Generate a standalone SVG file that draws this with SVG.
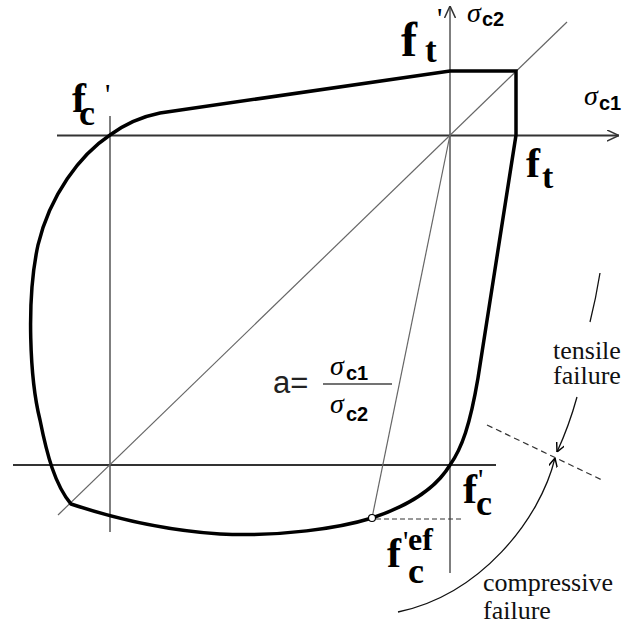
<svg xmlns="http://www.w3.org/2000/svg" width="626" height="632" viewBox="0 0 626 632">
<defs>
<style>
.ax{stroke:#333;stroke-width:2;fill:none}
.vl{stroke:#555;stroke-width:1.5;fill:none}
.thin{stroke:#666;stroke-width:1.2;fill:none}
.env{stroke:#000;stroke-width:3.5;fill:none;stroke-linejoin:miter}
.arc{stroke:#111;stroke-width:1.3;fill:none}
.dash{stroke:#333;stroke-width:1.2;fill:none;stroke-dasharray:6 4}
.fb{font-family:"Liberation Serif",serif;font-weight:bold;font-size:42px;fill:#000}
.sub{font-size:36px}
.sup{font-size:32px}
.pr{font-weight:normal;font-size:30px}
.sig{font-family:"Liberation Serif",serif;font-style:italic;font-size:28px;fill:#000}
.ss{font-family:"Liberation Sans",sans-serif;font-style:normal;font-weight:bold;font-size:20px}
.lbl{font-family:"Liberation Serif",serif;font-size:26px;fill:#111}
.fa{font-family:"Liberation Sans",sans-serif;font-size:31px;fill:#222}
</style>
<marker id="arr" viewBox="0 0 12 12" refX="12" refY="6" markerWidth="12" markerHeight="12" markerUnits="userSpaceOnUse" orient="auto"><path d="M0,0.5 L12,6 L0,11.5" fill="none" stroke="#333" stroke-width="1.5"/></marker>
<marker id="tick" viewBox="0 0 10 10" refX="10" refY="5" markerWidth="9" markerHeight="9" markerUnits="userSpaceOnUse" orient="auto-start-reverse"><path d="M0,0 L10,5 L0,10" fill="none" stroke="#000" stroke-width="1.6"/></marker>
</defs>
<rect width="626" height="632" fill="#fff"/>

<g id="connectors">
<path class="ax" d="M57,135.5 H619" marker-end="url(#arr)"/>
<path class="vl" d="M450,573 V6" marker-end="url(#arr)"/>
<path class="ax" d="M13,465 H496"/>
<path class="vl" d="M110,116 V532"/>
<path class="thin" d="M58,515 L567,22"/>
<path class="thin" d="M450,135 L372,518"/>
<path class="dash" d="M376,519 H463" style="stroke-dasharray:5 3;stroke-width:1"/>
<path class="dash" d="M487,425 L602,480"/>
<path class="arc" d="M600,273 Q596,298 590,322"/>
<path class="arc" d="M577,397 Q569,426 557,452" marker-end="url(#tick)"/>
<path class="arc" d="M555,458 C540,520 480,595 398,612" marker-start="url(#tick)"/>
<line x1="323" y1="384" x2="392" y2="384" stroke="#444" stroke-width="1.5"/>
</g>

<g id="envelope">
<path class="env" d="M110,135 C125,124 140,117 160,113 L450,71 L516,71 L516,135 L478,378 C470,425 462,448 450,465 C435,490 405,507 372,518 C340,528 280,537 220,534 C160,530 110,517 71,504 C55,485 47,455 40,420 C30,380 26,300 38,245 C50,195 80,155 110,135 Z"/>
<circle cx="372" cy="518" r="3.5" fill="#fff" stroke="#000" stroke-width="1.2"/>
</g>

<g id="label-ft-prime"><text class="fb"><tspan x="401" y="56" style="font-size:48px">f</tspan><tspan class="pr" x="437" y="28">'</tspan><tspan class="sub" x="425" y="62" style="font-size:35px">t</tspan></text></g>
<g id="label-sigma-c2"><text class="sig"><tspan x="467" y="22">σ</tspan><tspan class="ss" x="482" y="26">c2</tspan></text></g>
<g id="label-sigma-c1"><text class="sig"><tspan x="584" y="105">σ</tspan><tspan class="ss" x="599" y="110">c1</tspan></text></g>
<g id="label-ft"><text class="fb"><tspan x="526" y="177">f</tspan><tspan class="sub" x="542" y="188" style="font-size:34px">t</tspan></text></g>
<g id="label-fc-top"><text class="fb"><tspan x="72" y="112">f</tspan><tspan class="pr" x="105" y="104">'</tspan><tspan class="sub" x="79" y="125">c</tspan></text></g>
<g id="label-fc-bottom"><text class="fb"><tspan x="463" y="503">f</tspan><tspan class="pr" x="478" y="489">'</tspan><tspan class="sub" x="476" y="515">c</tspan></text></g>
<g id="label-fcef"><text class="fb"><tspan x="387" y="567">f</tspan><tspan class="pr" x="403" y="551">'</tspan><tspan class="sup" x="408" y="550">ef</tspan><tspan class="sub" x="408" y="583">c</tspan></text></g>
<g id="label-a">
<text class="fa" x="273" y="393">a=</text>
<text class="sig"><tspan x="330" y="375">σ</tspan><tspan class="ss" x="346" y="380">c1</tspan></text>
<text class="sig"><tspan x="330" y="413">σ</tspan><tspan class="ss" x="346" y="421">c2</tspan></text>
</g>
<g id="label-tensile"><text class="lbl"><tspan x="553" y="359">tensile</tspan><tspan x="553" y="384">failure</tspan></text></g>
<g id="label-compressive"><text class="lbl"><tspan x="483" y="591">compressive</tspan><tspan x="483" y="619">failure</tspan></text></g>
</svg>
